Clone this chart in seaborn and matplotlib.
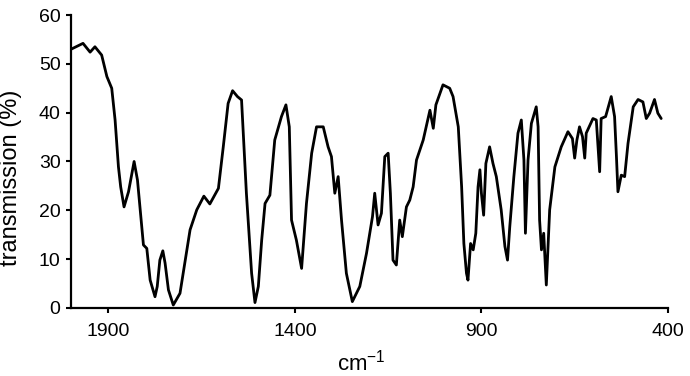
import matplotlib
matplotlib.use("Agg")
import matplotlib.pyplot as plt
import seaborn as sns
import pandas as pd

wavenumber = [2000, 1968, 1949, 1936, 1918, 1904, 1891, 1882, 1873, 1867, 1858, 1846, 1831, 1822,
              1813, 1806, 1797, 1788, 1775, 1769, 1762, 1754, 1748, 1739, 1726, 1708, 1695, 1681,
              1663, 1644, 1628, 1605, 1592, 1579, 1567, 1554, 1543, 1530, 1516, 1507, 1498, 1489,
              1480, 1467, 1454, 1436, 1424, 1415, 1409, 1396, 1382, 1369, 1355, 1342, 1324, 1311,
              1302, 1293, 1284, 1275, 1262, 1246, 1226, 1208, 1192, 1186, 1177, 1168, 1159, 1150,
              1144, 1137, 1128, 1119, 1112, 1101, 1092, 1083, 1074, 1056, 1038, 1029, 1022, 1003,
              985, 976, 962, 953, 947, 940, 936, 929, 922, 915, 909, 904, 900, 894, 888, 878, 869,
              860, 847, 837, 830, 824, 813, 802, 793, 786, 782, 775, 766, 753, 748, 744, 739, 733,
              726, 717, 703, 686, 668, 656, 650, 644, 637, 629, 623, 619, 601, 592, 583, 579, 567,
              552, 543, 538, 534, 525, 516, 507, 493, 480, 467, 458, 449, 436, 427, 418]
transmission = [53.0, 54.2, 52.4, 53.5, 51.8, 47.4, 45.0, 38.5, 28.9, 24.8, 20.7, 23.8, 30.0, 26.2,
                18.7, 12.9, 12.2, 5.7, 2.3, 4.4, 9.8, 11.7, 9.2, 3.7, 0.6, 3.0, 9.2, 16.0,
                20.1, 22.9, 21.3, 24.5, 33.0, 41.9, 44.5, 43.3, 42.6, 23.5, 7.1, 1.1, 4.4, 13.9,
                21.4, 23.1, 34.4, 39.2, 41.6, 37.1, 18.0, 13.9, 8.1, 21.4, 31.7, 37.1, 37.1, 33.0,
                31.0, 23.5, 26.9, 18.0, 7.1, 1.3, 4.4, 11.2, 18.7, 23.5, 17.0, 19.4, 31.0, 31.7,
                23.5, 9.8, 8.8, 18.0, 14.6, 20.7, 22.1, 24.8, 30.3, 34.4, 40.5, 36.8, 41.6, 45.7,
                45.0, 43.3, 37.1, 24.8, 13.2, 7.1, 5.7, 13.2, 11.9, 15.3, 24.8, 28.3, 23.5, 19.0,
                29.6, 33.0, 29.6, 26.9, 20.1, 12.6, 9.8, 16.6, 26.9, 35.8, 38.5, 30.3, 15.3, 30.3,
                37.8, 41.2, 37.1, 18.0, 11.9, 15.3, 4.7, 20.1, 28.9, 33.0, 36.1, 34.7, 30.7, 34.4,
                37.1, 35.1, 30.7, 35.8, 38.8, 38.5, 27.9, 38.8, 39.2, 43.3, 39.2, 31.0, 23.8, 27.2,
                26.9, 33.7, 41.2, 42.7, 42.2, 38.8, 39.9, 42.7, 39.9, 38.8]
x_ticks = [1900, 1400, 900, 400]
y_ticks = [0, 10, 20, 30, 40, 50, 60]

sns.set_theme(style="ticks")
plt.rcParams['font.family'] = ['Liberation Sans', 'DejaVu Sans']

df = pd.DataFrame({"wn": wavenumber, "T": transmission})

fig = plt.figure(figsize=(6.9, 3.76), dpi=100)
ax = fig.add_axes([0.103, 0.181, 0.865, 0.779])
sns.lineplot(data=df, x="wn", y="T", sort=False, color="black", linewidth=2.0, ax=ax)
ax.lines[0].set_solid_joinstyle("round")

ax.set_xlim(2000, 400)
ax.set_ylim(0, 60)
ax.set_xticks(x_ticks)
ax.set_yticks(y_ticks)
ax.tick_params(axis="both", labelsize=14, length=3.6, width=1.5, colors="black", direction="out")
ax.tick_params(axis="x", pad=7)
ax.tick_params(axis="y", pad=4)
for s in ["top", "right"]:
    ax.spines[s].set_visible(False)
for s in ["left", "bottom"]:
    ax.spines[s].set_linewidth(1.6)
    ax.spines[s].set_color("black")
ax.set_ylabel("transmission (%)", fontsize=17, color="black")
ax.yaxis.set_label_coords(-0.082, 0.444)
ax.set_xlabel("cm$^{\\mathregular{-1}}$", fontsize=16, color="black")
ax.xaxis.label.set_va("baseline")
ax.xaxis.set_label_coords(0.486, -0.212)

fig.savefig("out.png", dpi=100)
